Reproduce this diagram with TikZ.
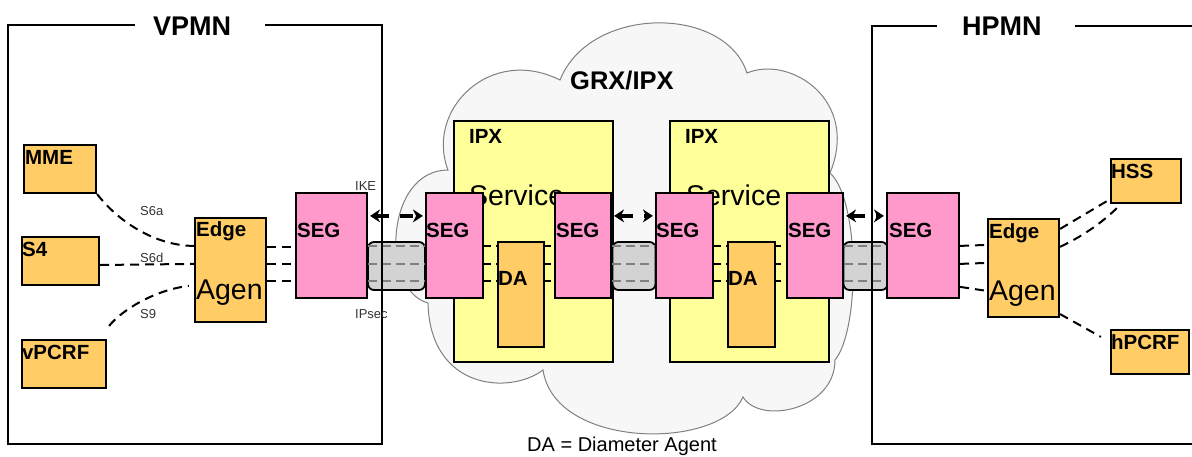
\documentclass[tikz,border=0pt]{standalone}
\usepackage{fontspec}
\setmainfont{Liberation Sans}
\usetikzlibrary{calc,arrows.meta}
\definecolor{boxorange}{HTML}{FFCC66}
\definecolor{segpink}{HTML}{FF99CC}
\definecolor{ipxyellow}{HTML}{FFFF99}
\definecolor{cloudfill}{HTML}{F7F7F7}
\definecolor{cloudline}{HTML}{808080}
\definecolor{tunfill}{HTML}{D3D3D3}
\definecolor{smallgray}{HTML}{333333}
\tikzset{
  obox/.style={draw=black, line width=2.2pt, fill=boxorange, inner sep=0pt},
  pbox/.style={draw=black, line width=2.2pt, fill=segpink, inner sep=0pt},
  ybox/.style={draw=black, line width=2.2pt, fill=ipxyellow, inner sep=0pt},
  tunnel/.style={draw=black, line width=1.8pt, fill=tunfill, rounded corners=6pt, inner sep=0pt},
  blbl/.style={anchor=base west, inner sep=0pt, font=\fontsize{20.5}{24}\selectfont\bfseries},
  biglbl/.style={anchor=base west, inner sep=0pt, font=\fontsize{28.5}{32}\selectfont},
  titlelbl/.style={anchor=base west, inner sep=0pt, font=\fontsize{27}{30}\selectfont\bfseries},
  smlbl/.style={anchor=base west, inner sep=0pt, font=\fontsize{13}{15}\selectfont, text=smallgray},
  conn/.style={draw=black, line width=2pt, dash pattern=on 9pt off 6pt},
  tunline/.style={draw=cloudline, line width=1.8pt, dash pattern=on 9pt off 5pt},
  ipxline/.style={draw=black, line width=1.5pt, dash pattern=on 7pt off 5pt},
  frameline/.style={draw=black, line width=2.2pt},
  dblarrow/.style={line width=3.5pt, {Stealth[length=10pt,width=13pt]}-{Stealth[length=10pt,width=13pt]}, dash pattern=on 13pt off 11pt},
  cloudshape/.style={draw=cloudline, line width=1pt, fill=cloudfill}
}
\begin{document}
\begin{tikzpicture}[x=1pt,y=-1pt]
\useasboundingbox (0,0) rectangle (1192,456);

% cloud
\path[cloudshape] (448,170)
  .. controls (425,110) and (490,45) .. (560,80)
  .. controls (590,5) and (725,5) .. (747,73)
  .. controls (790,55) and (860,100) .. (830,173)
  .. controls (860,200) and (860,330) .. (835,360)
  .. controls (835,410) and (760,425) .. (743,397)
  .. controls (720,450) and (555,450) .. (543,370)
  .. controls (510,395) and (430,390) .. (428,303)
  .. controls (380,290) and (385,170) .. (448,170) -- cycle;
\node[anchor=base west, inner sep=0pt, font=\fontsize{25.5}{28}\selectfont\bfseries] (grxT) at (570,89) {GRX/IPX};

% IPX boxes
\node[ybox, minimum width=159pt, minimum height=241pt] (ipx1) at (533.5,241.5) {};
\node[ybox, minimum width=159pt, minimum height=241pt] (ipx2) at (749.5,241.5) {};
\node[blbl] (ipx1T) at ($(ipx1.north west)+(16,24)$) {IPX};
\node[blbl] (ipx2T) at ($(ipx2.north west)+(16,24)$) {IPX};
\node[biglbl] (serv1) at ($(ipx1.north west)+(16,86)$) {Service};
\node[biglbl] (serv2) at ($(ipx2.north west)+(17,86)$) {Service};

% left network nodes
\node[obox, minimum width=72pt, minimum height=48pt] (mme) at (60,169) {};
\node[obox, minimum width=77pt, minimum height=48pt] (s4) at (60.5,261) {};
\node[obox, minimum width=84pt, minimum height=48pt] (vpcrf) at (64,364) {};
\node[obox, minimum width=71pt, minimum height=104pt] (edgeL) at (230.5,270) {};
\node[pbox, minimum width=71pt, minimum height=105pt] (segL) at (331.5,245.5) {};

% tunnels
\node[tunnel, minimum width=57pt, minimum height=48pt] (tunA) at (396.5,266) {};
\node[tunnel, minimum width=43pt, minimum height=48pt] (tunB) at (634,266) {};
\node[tunnel, minimum width=44pt, minimum height=48pt] (tunC) at (865.5,266) {};

% SEGs in IPX
\node[pbox, minimum width=57pt, minimum height=105pt] (seg1) at (454.5,245.5) {};
\node[pbox, minimum width=56pt, minimum height=105pt] (seg2) at (583,245.5) {};
\node[pbox, minimum width=57pt, minimum height=105pt] (seg3) at (684.5,245.5) {};
\node[pbox, minimum width=56pt, minimum height=105pt] (seg4) at (815,245.5) {};

% right network nodes
\node[pbox, minimum width=72pt, minimum height=105pt] (segR) at (923,245.5) {};
\node[obox, minimum width=71pt, minimum height=98pt] (edgeR) at (1023.5,268) {};
\node[obox, minimum width=70pt, minimum height=44pt] (hss) at (1146,181) {};
\node[obox, minimum width=78pt, minimum height=44pt] (hpcrf) at (1150,352) {};

% dashed lines inside IPX boxes and tunnels
\foreach \dy in {54,72,89} {
  \path[ipxline] ($(seg1.north east)+(0,\dy)$) -- ($(seg2.north west)+(0,\dy)$);
  \path[ipxline] ($(seg3.north east)+(0,\dy)$) -- ($(seg4.north west)+(0,\dy)$);
  \path[tunline] ($(segL.north east)+(0,\dy)$) -- ($(seg1.north west)+(0,\dy)$);
  \path[tunline] ($(seg2.north east)+(0,\dy)$) -- ($(seg3.north west)+(0,\dy)$);
  \path[tunline] ($(seg4.north east)+(0,\dy)$) -- ($(segR.north west)+(0,\dy)$);
}

% DA boxes
\node[obox, minimum width=46pt, minimum height=105pt] (da1) at (521,294.5) {};
\node[obox, minimum width=47pt, minimum height=105pt] (da2) at (751.5,294.5) {};

% connectors left
\path[conn] (mme.south east) .. controls +(25,32) and +(-34,0) .. ($(edgeL.north west)+(0,29)$);
\path[conn] ($(s4.east)+(0,4)$) -- ($(edgeL.north west)+(0,47)$);
\path[conn] ($(vpcrf.north east)+(2,-13)$) .. controls +(12,-15) and +(-35,4) .. ($(edgeL.north west)+(-5,69)$);
\path[conn] ($(edgeL.north east)+(0,30)$) -- ($(segL.north west)+(0,55)$);
\path[conn] ($(edgeL.north east)+(0,47)$) -- ($(segL.north west)+(0,72)$);
\path[conn] ($(edgeL.north east)+(0,64)$) -- ($(segL.north west)+(0,89)$);

% connectors right
\path[conn] ($(segR.north east)+(0,54)$) -- ($(edgeR.north west)+(0,27)$);
\path[conn] ($(segR.north east)+(0,72)$) -- ($(edgeR.north west)+(0,45)$);
\path[conn] ($(segR.north east)+(0,95)$) -- ($(edgeR.north west)+(0,73)$);
\path[conn] ($(edgeR.north east)+(0,11)$) -- ($(hss.south west)+(-3,-3)$);
\path[conn] ($(edgeR.north east)+(0,29)$) .. controls +(25,-12) and +(-15,15) .. ($(hss.south west)+(9,2)$);
\path[conn] ($(edgeR.south east)+(0,-4)$) -- ($(hpcrf.north west)+(-9,8)$);

% frames
\path[frameline] (135,25) -- (8,25) -- (8,444) -- (382,444) -- (382,25) -- (265,25);
\path[frameline] (937,26) -- (872,26) -- (872,444) -- (1196,444);
\path[frameline] (1075,26) -- (1196,26);
\node[titlelbl] (vpmnT) at (153,35) {VPMN};
\node[titlelbl] (hpmnT) at (962,35) {HPMN};

% box labels
\node[blbl] (mmeT) at ($(mme.north west)+(2,21)$) {MME};
\node[blbl] (s4T) at ($(s4.north west)+(1,21)$) {S4};
\node[blbl] (vpcrfT) at ($(vpcrf.north west)+(1,21)$) {vPCRF};
\node[blbl] (edgeLT) at ($(edgeL.north west)+(2,20)$) {Edge};
\node[biglbl] (edgeLA) at ($(edgeL.north west)+(2,83)$) {Agen};
\node[blbl] (segLT) at ($(segL.north west)+(2,46)$) {SEG};
\node[blbl] (seg1T) at ($(seg1.north west)+(1,46)$) {SEG};
\node[blbl] (seg2T) at ($(seg2.north west)+(2,46)$) {SEG};
\node[blbl] (seg3T) at ($(seg3.north west)+(1,46)$) {SEG};
\node[blbl] (seg4T) at ($(seg4.north west)+(2,46)$) {SEG};
\node[blbl] (segRT) at ($(segR.north west)+(3,46)$) {SEG};
\node[blbl] (da1T) at ($(da1.north west)+(1,45)$) {DA};
\node[blbl] (da2T) at ($(da2.north west)+(1,45)$) {DA};
\node[blbl] (edgeRT) at ($(edgeR.north west)+(2,21)$) {Edge};
\node[biglbl] (edgeRA) at ($(edgeR.north west)+(2,83)$) {Agen};
\node[blbl] (hssT) at ($(hss.north west)+(1,21)$) {HSS};
\node[blbl] (hpcrfT) at ($(hpcrf.north west)+(1,21)$) {hPCRF};

% small labels
\node[smlbl] (ikeT) at (355,190) {IKE};
\node[smlbl] (ipsecT) at (355,318) {IPsec};
\node[smlbl] (s6aT) at (140,215) {S6a};
\node[smlbl] (s6dT) at (140,262) {S6d};
\node[smlbl] (s9T) at (140,318) {S9};

% IKE arrows
\draw[dblarrow] ($(segL.north east)+(2,24)$) -- ($(seg1.north west)+(-2,24)$);
\draw[dblarrow] ($(seg2.north east)+(2,24)$) -- ($(seg3.north west)+(-2,24)$);
\draw[dblarrow] ($(seg4.north east)+(2,24)$) -- ($(segR.north west)+(-2,24)$);

% legend
\node[anchor=base west, inner sep=0pt, font=\fontsize{20}{24}\selectfont] (legend) at (527,451) {DA = Diameter Agent};
\end{tikzpicture}
\end{document}
